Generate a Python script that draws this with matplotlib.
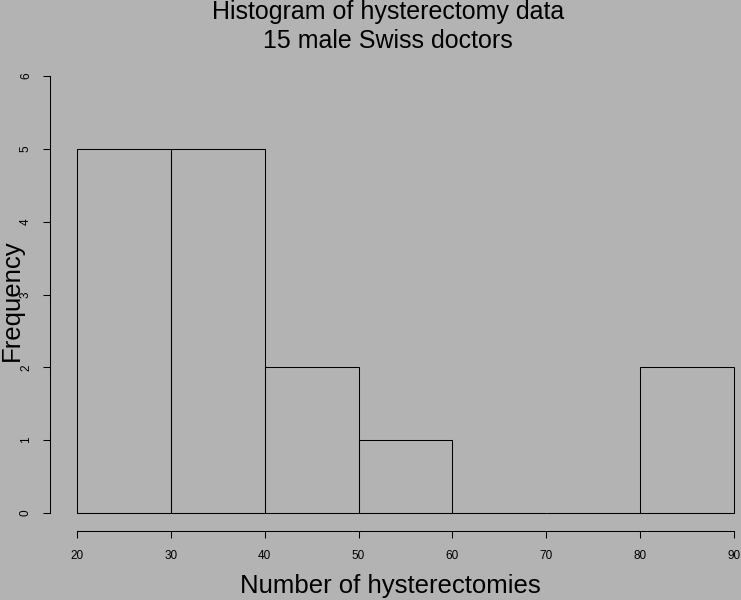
import numpy as np
import matplotlib
matplotlib.use("Agg")
import matplotlib.pyplot as plt

plt.rcParams['font.family'] = ['Liberation Sans', 'DejaVu Sans']

# histogram of 15 doctors, counts
bin_edges = [20, 30, 40, 50, 60, 70, 80, 90]
counts = [5, 5, 2, 1, 0, 0, 2]
x_ticks = [20, 30, 40, 50, 60, 70, 80, 90]
y_ticks = [0, 1, 2, 3, 4, 5, 6]

bg = '#b3b3b3'
lw = 0.75

fig = plt.figure(figsize=(7.41, 6.0), dpi=100, facecolor=bg)
W, H = 741, 600
ax = fig.add_axes([77 / W, 87 / H, 657 / W, 437 / H], facecolor=bg)

bars = ax.bar(bin_edges[:-1], counts, width=np.diff(bin_edges), align='edge',
              fill=False, edgecolor='black', linewidth=lw)
for b in bars:
    b.set_clip_on(False)

ax.set_xlim(20, 90)
ax.set_ylim(0, 6)
ax.set_xticks(x_ticks)
ax.set_yticks(y_ticks)

for s in ['top', 'right']:
    ax.spines[s].set_visible(False)
ax.spines['left'].set_position(('outward', 27 * 0.72))
ax.spines['bottom'].set_position(('outward', 18 * 0.72))
ax.spines['left'].set_bounds(0, 6)
ax.spines['bottom'].set_bounds(20, 90)
for s in ['left', 'bottom']:
    ax.spines[s].set_linewidth(lw)

ax.tick_params(axis='both', length=5, width=lw, labelsize=8.5, color='black')
ax.tick_params(axis='x', pad=9)
ax.tick_params(axis='y', pad=8)
for lab in ax.get_yticklabels():
    lab.set_rotation(90)
    lab.set_va('center')

fs = 18
fig.text(388 / W, 1 - 19 / H, 'Histogram of hysterectomy data', ha='center', va='baseline', fontsize=fs)
fig.text(388 / W, 1 - 48.5 / H, '15 male Swiss doctors', ha='center', va='baseline', fontsize=fs)
fig.text(390 / W, 1 - 593 / H, 'Number of hysterectomies', ha='center', va='baseline', fontsize=18.5)
fig.text(12 / W, 1 - 300 / H, 'Frequency', ha='center', va='center', rotation=90, fontsize=18.5)

fig.savefig('out.png', dpi=100, facecolor=bg)
